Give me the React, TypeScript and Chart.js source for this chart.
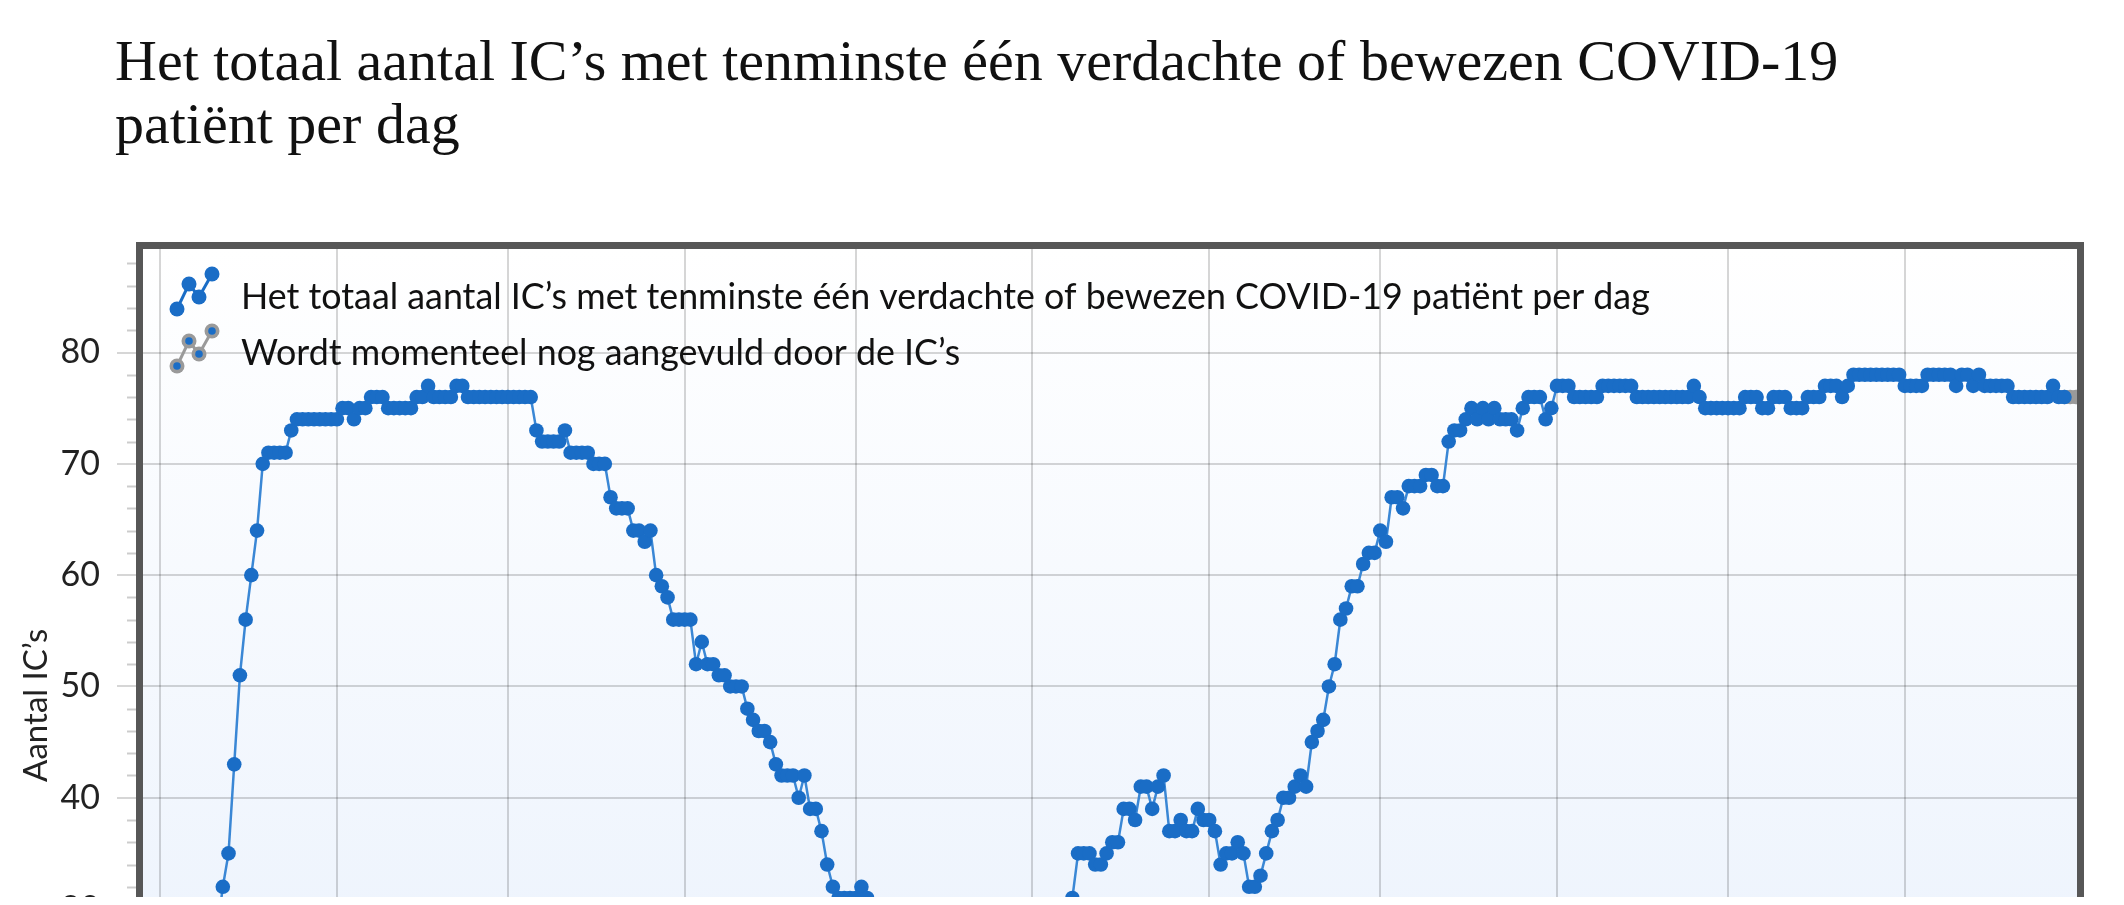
import React, { useEffect, useRef } from 'react';
import { Chart, registerables } from 'chart.js';

Chart.register(...registerables);

// ---------- text ----------
const TITLE_LINES = [
  'Het totaal aantal IC’s met tenminste één verdachte of bewezen COVID-19',
  'patiënt per dag',
];
const SERIES_LABEL =
  'Het totaal aantal IC’s met tenminste één verdachte of bewezen COVID-19 patiënt per dag';
const PENDING_LABEL = 'Wordt momenteel nog aangevuld door de IC’s';
const Y_AXIS_TITLE = 'Aantal IC’s';

// ---------- axes ----------
const FIRST_DAY = '2020-02-27';
const X_SPAN_DAYS = 339.2;
const MONTH_TICK_DATES = [
  '2020-03-01', '2020-04-01', '2020-05-01', '2020-06-01', '2020-07-01', '2020-08-01',
  '2020-09-01', '2020-10-01', '2020-11-01', '2020-12-01', '2021-01-01',
];
const MONTH_TICK_LABELS = [
  '1 mrt', '1 apr', '1 mei', '1 jun', '1 jul', '1 aug', '1 sep', '1 okt', '1 nov', '1 dec', '1 jan',
];
const Y_TICKS = [0, 10, 20, 30, 40, 50, 60, 70, 80];
const Y_MIN = 0;
const Y_MAX = 89.3;
const Y_MINOR_STEP = 2;

// ---------- data: one value per day from FIRST_DAY ----------
const IC_COUNTS = [
  0, 0, 1, 1, 2, 3, 4, 6, 8, 11, 15, 19, 24, 28,
  32, 35, 43, 51, 56, 60, 64, 70,
  71, 71, 71, 71,
  73,
  74, 74, 74, 74, 74, 74, 74, 74,
  75, 75, 74, 75, 75,
  76, 76, 76,
  75, 75, 75, 75, 75,
  76, 76,
  77,
  76, 76, 76, 76,
  77, 77,
  76, 76, 76, 76, 76, 76, 76, 76, 76, 76, 76, 76,
  73, 72, 72, 72, 72, 73,
  71, 71, 71, 71,
  70, 70, 70,
  67,
  66, 66, 66,
  64, 64, 63, 64,
  60, 59, 58,
  56, 56, 56, 56,
  52, 54, 52, 52,
  51, 51,
  50, 50, 50,
  48, 47, 46, 46, 45, 43,
  42, 42, 42, 40, 42, 39, 39,
  37, 34, 32, 31, 31, 31, 31, 32, 31,
  29, 28, 27, 26, 25, 24, 24, 23, 22, 22,
  21, 20, 20, 19, 19, 18, 18, 19, 19, 20,
  21, 22, 23, 24, 25, 26, 27, 27, 28, 28,
  29,
  30, 30, 30, 30, 31,
  35, 35, 35, 34, 34, 35, 36, 36,
  39, 39, 38, 41, 41, 39, 41, 42,
  37, 37, 38, 37, 37, 39, 38, 38, 37,
  34, 35, 35, 36, 35, 32, 32, 33,
  35, 37, 38, 40, 40, 41, 42, 41,
  45, 46, 47, 50, 52, 56, 57, 59, 59,
  61, 62, 62, 64, 63,
  67, 67, 66, 68, 68, 68, 69, 69, 68, 68,
  72, 73, 73, 74, 75, 74, 75, 74, 75, 74, 74, 74, 73,
  75, 76, 76, 76, 74, 75,
  77, 77, 77,
  76, 76, 76, 76, 76,
  77, 77, 77, 77, 77, 77,
  76, 76, 76, 76, 76, 76, 76, 76, 76, 76,
  77,
  76,
  75, 75, 75, 75, 75, 75, 75,
  76, 76, 76,
  75, 75,
  76, 76, 76,
  75, 75, 75,
  76, 76, 76,
  77, 77, 77,
  76, 77,
  78, 78, 78, 78, 78, 78, 78, 78, 78,
  77, 77, 77, 77,
  78, 78, 78, 78, 78,
  77,
  78, 78,
  77,
  78,
  77, 77, 77, 77, 77,
  76, 76, 76, 76, 76, 76, 76,
  77,
  76, 76,
  76, 76,
];
const PENDING_DAYS = 2; // last days still being completed by the ICs

// ---------- styles ----------
const BLUE = '#1a6dc6';
const LINE_BLUE = '#3a87d5';
const GRAY = '#9a9a9a';
const GRID = 'rgba(0,0,0,0.16)';
const FRAME = '#575757';
const FONT = 'Lato, "Noto Sans", sans-serif';

const dayOffset = (d: string) =>
  Math.round((Date.parse(d + 'T00:00:00Z') - Date.parse(FIRST_DAY + 'T00:00:00Z')) / 86400000);

function drawLegendIcon(ctx: CanvasRenderingContext2D, x0: number, y0: number, pending: boolean) {
  const pts = [[0, 35], [12, 10], [22, 23], [35, 0]];
  ctx.save();
  ctx.strokeStyle = pending ? GRAY : BLUE;
  ctx.lineWidth = 3;
  ctx.beginPath();
  pts.forEach(([dx, dy], i) => (i ? ctx.lineTo(x0 + dx, y0 + dy) : ctx.moveTo(x0 + dx, y0 + dy)));
  ctx.stroke();
  pts.forEach(([dx, dy]) => {
    ctx.beginPath();
    ctx.arc(x0 + dx, y0 + dy, 7.5, 0, Math.PI * 2);
    ctx.fillStyle = pending ? GRAY : BLUE;
    ctx.fill();
    if (pending) {
      ctx.beginPath();
      ctx.arc(x0 + dx, y0 + dy, 3.8, 0, Math.PI * 2);
      ctx.fillStyle = BLUE;
      ctx.fill();
    }
  });
  ctx.restore();
}

const backgroundPlugin = {
  id: 'plotBackground',
  beforeDraw(chart: any) {
    const { ctx, chartArea: a } = chart;
    const g = ctx.createLinearGradient(0, a.top, 0, a.bottom);
    g.addColorStop(0, '#ffffff');
    g.addColorStop(1, '#e6effc');
    ctx.save();
    ctx.fillStyle = g;
    ctx.fillRect(a.left, a.top, a.right - a.left, a.bottom - a.top);
    ctx.restore();
  },
};

const decorPlugin = {
  id: 'decor',
  afterDraw(chart: any) {
    const { ctx, chartArea: a } = chart;
    const y = chart.scales.y;
    ctx.save();
    // minor ticks
    ctx.strokeStyle = 'rgba(0,0,0,0.2)';
    ctx.lineWidth = 2;
    for (let v = Y_MIN; v <= Y_MAX; v += Y_MINOR_STEP) {
      if (v % 10 === 0) continue;
      const py = Math.round(y.getPixelForValue(v)) + 0.5;
      ctx.beginPath();
      ctx.moveTo(a.left - 16, py);
      ctx.lineTo(a.left - 6, py);
      ctx.stroke();
    }
    // frame
    ctx.strokeStyle = FRAME;
    ctx.lineWidth = 7;
    ctx.strokeRect(a.left - 3.5, a.top - 3.5, a.right - a.left + 7, a.bottom - a.top + 7);
    // legend
    drawLegendIcon(ctx, a.left + 34, a.top + 25, false);
    drawLegendIcon(ctx, a.left + 34, a.top + 82, true);
    ctx.fillStyle = '#111';
    ctx.font = `35.8px ${FONT}`;
    ctx.textAlign = 'left';
    ctx.textBaseline = 'alphabetic';
    ctx.fillText(SERIES_LABEL, a.left + 98, a.top + 60);
    ctx.fillText(PENDING_LABEL, a.left + 98, a.top + 116);
    // y axis title
    ctx.font = `33px ${FONT}`;
    ctx.translate(38.5, a.top + (a.bottom - a.top) * 0.459);
    ctx.rotate(-Math.PI / 2);
    ctx.textAlign = 'center';
    ctx.fillStyle = '#222';
    ctx.fillText(Y_AXIS_TITLE, 0, 0);
    ctx.restore();
  },
};

export default function App() {
  const ref = useRef<HTMLCanvasElement | null>(null);

  useEffect(() => {
    if (!ref.current) return;
    const lastConfirmed = IC_COUNTS.length - PENDING_DAYS - 1;
    const confirmed = IC_COUNTS.slice(0, lastConfirmed + 1).map((v, i) => ({ x: i, y: v }));
    const pending = IC_COUNTS.slice(lastConfirmed).map((v, i) => ({ x: lastConfirmed + i, y: v }));
    const monthTicks = MONTH_TICK_DATES.map(dayOffset);

    const chart = new Chart(ref.current, {
      type: 'line',
      data: {
        datasets: [
          {
            label: SERIES_LABEL,
            data: confirmed,
            order: 0,
            borderColor: LINE_BLUE,
            borderWidth: 2.5,
            pointRadius: 7.3,
            pointBackgroundColor: BLUE,
            pointBorderWidth: 0,
            tension: 0,
          },
          {
            label: PENDING_LABEL,
            data: pending,
            order: 1,
            borderColor: GRAY,
            borderWidth: 2.5,
            pointRadius: 7.3,
            pointBackgroundColor: GRAY,
            pointBorderWidth: 0,
            tension: 0,
          },
        ],
      },
      options: {
        animation: false,
        responsive: false,
        devicePixelRatio: 1,
        layout: { padding: { left: 0, top: 49, right: 31, bottom: 47 } },
        plugins: { legend: { display: false }, tooltip: { enabled: false }, title: { display: false } },
        scales: {
          x: {
            type: 'linear',
            min: 0,
            max: X_SPAN_DAYS,
            afterBuildTicks: (axis: any) => {
              axis.ticks = monthTicks.map((v) => ({ value: v }));
            },
            afterFit: (axis: any) => {
              axis.height = 60;
            },
            border: { display: false },
            grid: { color: GRID, lineWidth: 2, tickLength: 20, tickColor: GRID },
            ticks: {
              autoSkip: false,
              maxRotation: 0,
              font: { family: FONT, size: 34 },
              color: '#222',
              callback: (v: any) => {
                const i = monthTicks.indexOf(Number(v));
                return i >= 0 ? MONTH_TICK_LABELS[i] : '';
              },
            },
          },
          y: {
            type: 'linear',
            min: Y_MIN,
            max: Y_MAX,
            afterBuildTicks: (axis: any) => {
              axis.ticks = Y_TICKS.map((v) => ({ value: v }));
            },
            afterFit: (axis: any) => {
              axis.width = 135;
            },
            border: { display: false },
            grid: { color: GRID, lineWidth: 2, tickLength: 26, tickColor: GRID },
            ticks: {
              padding: 17,
              font: { family: FONT, size: 34 },
              color: '#222',
            },
          },
        },
      },
      plugins: [backgroundPlugin, decorPlugin],
    } as any);
    return () => chart.destroy();
  }, []);

  return (
    <div style={{ position: 'relative', width: 2108, height: 889, overflow: 'hidden' }}>
      <div
        style={{
          position: 'absolute',
          left: 107,
          top: 21,
          fontFamily: '"Liberation Serif", "Times New Roman", serif',
          fontSize: 58,
          lineHeight: '63px',
          color: '#111',
          whiteSpace: 'nowrap',
        }}
      >
        {TITLE_LINES[0]}
        <br />
        {TITLE_LINES[1]}
      </div>
      <canvas
        ref={ref}
        width={2100}
        height={1150}
        style={{ position: 'absolute', left: 0, top: 192, width: 2100, height: 1150 }}
      />
    </div>
  );
}
